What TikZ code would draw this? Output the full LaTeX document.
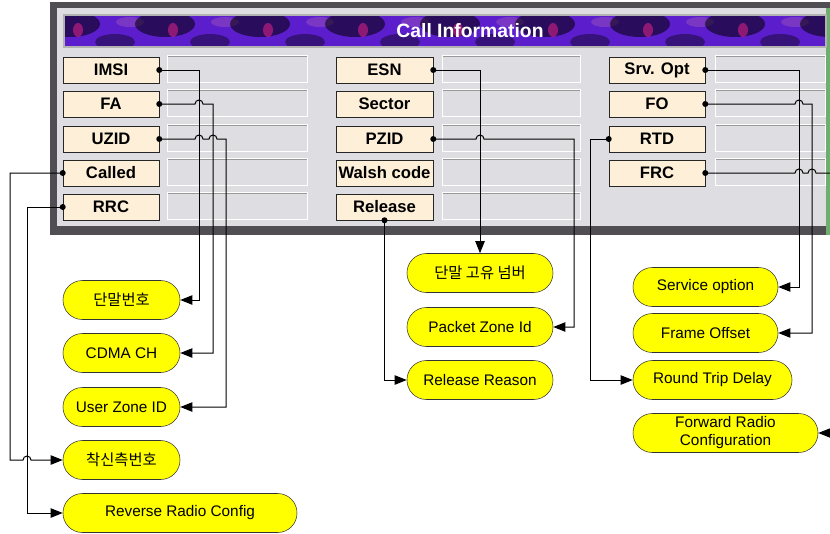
\documentclass[tikz,border=0pt]{standalone}
\usepackage{fontspec}
\setmainfont{Liberation Sans}
\newfontfamily\krfont{Noto Sans CJK KR}
\usetikzlibrary{arrows.meta}

\definecolor{frame}{RGB}{80,78,82}
\definecolor{panelbg}{RGB}{222,221,226}
\definecolor{btnfill}{RGB}{253,239,216}
\definecolor{titlebar}{RGB}{92,30,205}
\definecolor{tagyellow}{RGB}{255,255,0}
\definecolor{edgegreen}{RGB}{110,175,110}

\tikzset{
  btn/.style={draw=black!85, fill=btnfill, minimum width=72pt, minimum height=19.5pt, inner sep=0pt,
    font=\fontsize{12.5}{14}\selectfont\bfseries},
  field/.style={fill=panelbg, draw=white, minimum height=20.25pt, inner sep=0pt,
    path picture={\draw[black!40, line width=1.6pt] (path picture bounding box.south west) |- (path picture bounding box.north east);}},
  info/.style={draw=black!80, fill=tagyellow, rounded corners=14.5pt, minimum height=29.25pt, inner sep=0pt,
    font=\fontsize{11.5}{13.5}\selectfont, align=center},
  link/.style={line width=0.75pt, -{Triangle[length=9pt, width=7pt]}},
}

\begin{document}
\begin{tikzpicture}[x=0.75pt, y=-0.75pt]
    \useasboundingbox (0,0) rectangle (830,533);

    % window
    \fill[frame] (50,2) rectangle (840,235);
    \fill[panelbg] (57,8) rectangle (826,226);
    \fill[edgegreen] (826,8) rectangle (830,235);
    \begin{scope}
      \clip (64,15) rectangle (826,47);
      \fill[titlebar] (64,15) rectangle (826,47);
      \foreach \x in {70,165,...,830} {
        \fill[black, opacity=0.55] (\x,24) ellipse[x radius=30, y radius=13];
        \fill[black, opacity=0.4] (\x+45,42) ellipse[x radius=20, y radius=8];
        \fill[magenta!70!violet, opacity=0.6] (\x+8,30) ellipse[x radius=5, y radius=7];
        \fill[violet!60!white, opacity=0.35] (\x+60,22) ellipse[x radius=14, y radius=5];
      }
    \end{scope}
    \draw[black!30, line width=0.8pt] (64,15) rectangle (826,47);
    \node[text=white, font=\fontsize{14.5}{16}\selectfont\bfseries] (title) at (470,31) {Call Information};

    % buttons
    \node[btn] (imsi) at (111,70) {IMSI};
    \node[btn] (fa) at (111,104) {FA};
    \node[btn] (uzid) at (111,139) {UZID};
    \node[btn] (called) at (111,173) {Called};
    \node[btn] (rrc) at (111,207) {RRC};
    \node[btn, minimum width=72.75pt] (esn) at (384.5,70) {ESN};
    \node[btn, minimum width=72.75pt] (sector) at (384.5,104) {Sector};
    \node[btn, minimum width=72.75pt] (pzid) at (384.5,139) {PZID};
    \node[btn, minimum width=72.75pt] (walsh) at (384.5,173) {Walsh code};
    \node[btn, minimum width=72.75pt] (release) at (384.5,207) {Release};
    \node[btn] (srvopt) at (657,70) {Srv. Opt};
    \node[btn] (fo) at (657,104) {FO};
    \node[btn] (rtd) at (657,139) {RTD};
    \node[btn] (frc) at (657,173) {FRC};

    % value fields
    \node[field, minimum width=105pt] (imsi-v) at (237,69) {};
    \node[field, minimum width=105pt] (fa-v) at (237,103) {};
    \node[field, minimum width=105pt] (uzid-v) at (237,138) {};
    \node[field, minimum width=105pt] (called-v) at (237,172) {};
    \node[field, minimum width=105pt] (rrc-v) at (237,206) {};
    \node[field, minimum width=103.5pt] (esn-v) at (511,69) {};
    \node[field, minimum width=103.5pt] (sector-v) at (511,103) {};
    \node[field, minimum width=103.5pt] (pzid-v) at (511,138) {};
    \node[field, minimum width=103.5pt] (walsh-v) at (511,172) {};
    \node[field, minimum width=103.5pt] (release-v) at (511,206) {};
    \node[field, minimum width=82.5pt] (srvopt-v) at (770,69) {};
    \node[field, minimum width=82.5pt] (fo-v) at (770,103) {};
    \node[field, minimum width=82.5pt] (rtd-v) at (770,138) {};
    \node[field, minimum width=82.5pt] (frc-v) at (770,172) {};

    % descriptions
    \node[info, minimum width=87.75pt] (msn) at (121.5,300) {\krfont 단말번호};
    \node[info, minimum width=87.75pt] (cdma) at (121.5,353) {CDMA CH};
    \node[info, minimum width=87.75pt] (uzone) at (121.5,407) {User Zone ID};
    \node[info, minimum width=87.75pt] (callee) at (121.5,460) {\krfont 착신측번호};
    \node[info, minimum width=175.5pt] (rrcfull) at (180,513) {Reverse Radio Config};
    \node[info, minimum width=109.5pt] (esnfull) at (480,273) {\krfont 단말 고유 넘버};
    \node[info, minimum width=109.5pt] (pzone) at (480,327) {Packet Zone Id};
    \node[info, minimum width=109.5pt] (relreason) at (480,380) {Release Reason};
    \node[info, minimum width=108.75pt] (svcopt) at (705.5,287) {Service option};
    \node[info, minimum width=108.75pt] (frmoff) at (705.5,333) {Frame Offset};
    \node[info, minimum width=119.25pt] (rtdfull) at (712.5,380) {Round Trip Delay};
    \node[info, minimum width=138.75pt] (frcfull) at (725.5,433) {Forward Radio\\Configuration};

    % connectors, left column
    \draw[link] (imsi.east) -- (199,70) |- (msn.east);
    \draw[link] (fa.east) -- (195,104) arc[start angle=180, end angle=360, radius=4] -- (213,104) |- (cdma.east);
    \draw[link] (uzid.east) -- (195,139) arc[start angle=180, end angle=360, radius=4]
      -- (209,139) arc[start angle=180, end angle=360, radius=4] -- (226,139) |- (uzone.east);
    \draw[link] (called.west) -- (10,173) |- (23,460) arc[start angle=180, end angle=360, radius=4] -- (callee.west);
    \draw[link] (rrc.west) -- (27,207) |- (rrcfull.west);

    % connectors, middle column
    \draw[link] (esn.east) -| (esnfull.north);
    \draw[link] (pzid.east) -- (476,139) arc[start angle=180, end angle=360, radius=4] -- (574,139) |- (pzone.east);
    \draw[link] (release.south) |- (relreason.west);

    % connectors, right column
    \draw[link] (srvopt.east) -- (799,70) |- (svcopt.east);
    \draw[link] (fo.east) -- (795,104) arc[start angle=180, end angle=360, radius=4] -- (812,104) |- (frmoff.east);
    \draw[link] (rtd.west) -- (590,139) |- (rtdfull.west);
    \draw[link] (frc.east) -- (795,173) arc[start angle=180, end angle=360, radius=4]
      -- (808,173) arc[start angle=180, end angle=360, radius=4] -- (840,173) |- (frcfull.east);

    \fill (imsi.east) circle[radius=3] (fa.east) circle[radius=3] (uzid.east) circle[radius=3]
      (called.west) circle[radius=3] (rrc.west) circle[radius=3]
      (esn.east) circle[radius=3] (pzid.east) circle[radius=3] (release.south) circle[radius=3]
      (srvopt.east) circle[radius=3] (fo.east) circle[radius=3] (rtd.west) circle[radius=3]
      (frc.east) circle[radius=3];
  \end{tikzpicture}
\end{document}
